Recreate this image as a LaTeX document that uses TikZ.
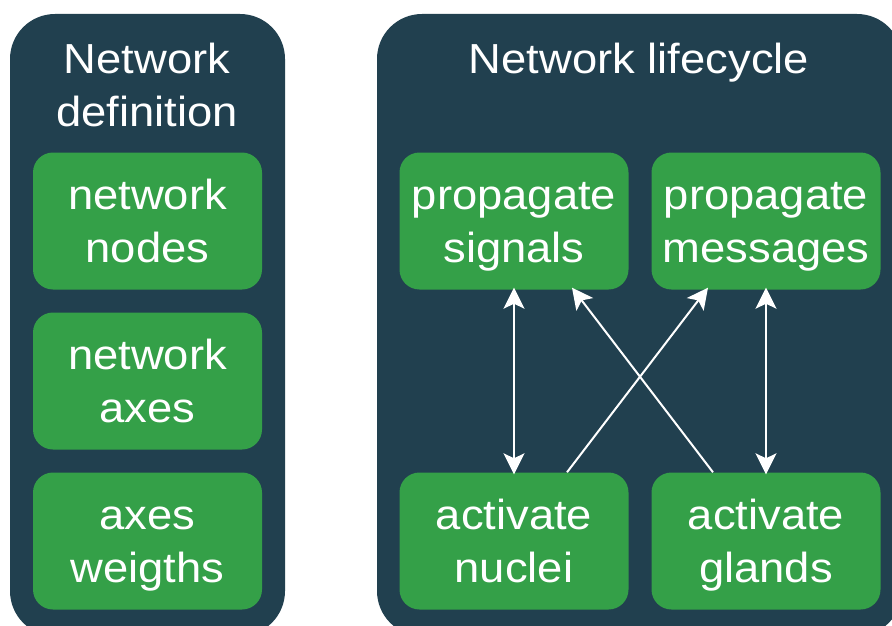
\documentclass[tikz,border=0pt]{standalone}
\usepackage{fontspec}
\setmainfont{Liberation Sans}[FakeStretch=1.08]
\usetikzlibrary{arrows.meta}

\definecolor{paneldark}{HTML}{21404F}
\definecolor{boxgreen}{HTML}{34A048}

% fixed line height so that every label sits alike
\newcommand{\lstrut}{\rule[-10pt]{0pt}{50pt}}

\tikzset{
	panel/.style = {fill = paneldark, rounded corners = 45pt},
	stagebox/.style = {fill = boxgreen, text = white, rounded corners = 20pt,
		minimum width = 229pt, minimum height = 137pt, align = center,
		font = \fontsize{42}{53}\selectfont},
	paneltitle/.style = {text = white, align = center, font = \fontsize{42}{53}\selectfont},
	tip/.tip = {Stealth[length=21pt,width=21pt,inset=5pt]},
	link/.style = {draw = white, line width = 2pt, -tip},
	twolink/.style = {link, tip-tip}
}

\begin{document}
\begin{tikzpicture}[x = 1pt, y = -1pt]
	\useasboundingbox (0,0) rectangle (892,626);
	\clip (0,0) rectangle (892,626);
	\fill[white] (0,0) rectangle (892,626);

	%the two panels
	\fill[panel] (10,14) rectangle (285,636);
	\fill[panel] (377,14) rectangle (902,636);
	\node[paneltitle] (defttl) at (147,84.5) {\lstrut Network\\\lstrut definition};
	\node[paneltitle] (lifettl) at (639,58.5) {\lstrut Network lifecycle};

	%network definition
	\node[stagebox] (nodes) at (147.5,221) {\lstrut network\\\lstrut nodes};
	\node[stagebox] (axes) at (147.5,381) {\lstrut network\\\lstrut axes};
	\node[stagebox] (weights) at (147.5,541) {\lstrut axes\\\lstrut weigths};

	%network lifecycle
	\node[stagebox] (signals) at (514,221) {\lstrut propagate\\\lstrut signals};
	\node[stagebox] (messages) at (766,221) {\lstrut propagate\\\lstrut messages};
	\node[stagebox] (nuclei) at (514,541) {\lstrut activate\\\lstrut nuclei};
	\node[stagebox] (glands) at (766,541) {\lstrut activate\\\lstrut glands};

	%links between the stages
	\draw[twolink] ([yshift = 2pt]signals.south) -- ([yshift = -2pt]nuclei.north);
	\draw[twolink] ([yshift = 2pt]messages.south) -- ([yshift = -2pt]glands.north);
	\draw[link] ([xshift = 53pt]nuclei.north) -- ([xshift = -58pt, yshift = 2pt]messages.south);
	\draw[link] ([xshift = -53pt]glands.north) -- ([xshift = 58pt, yshift = 2pt]signals.south);

\end{tikzpicture}
\end{document}
